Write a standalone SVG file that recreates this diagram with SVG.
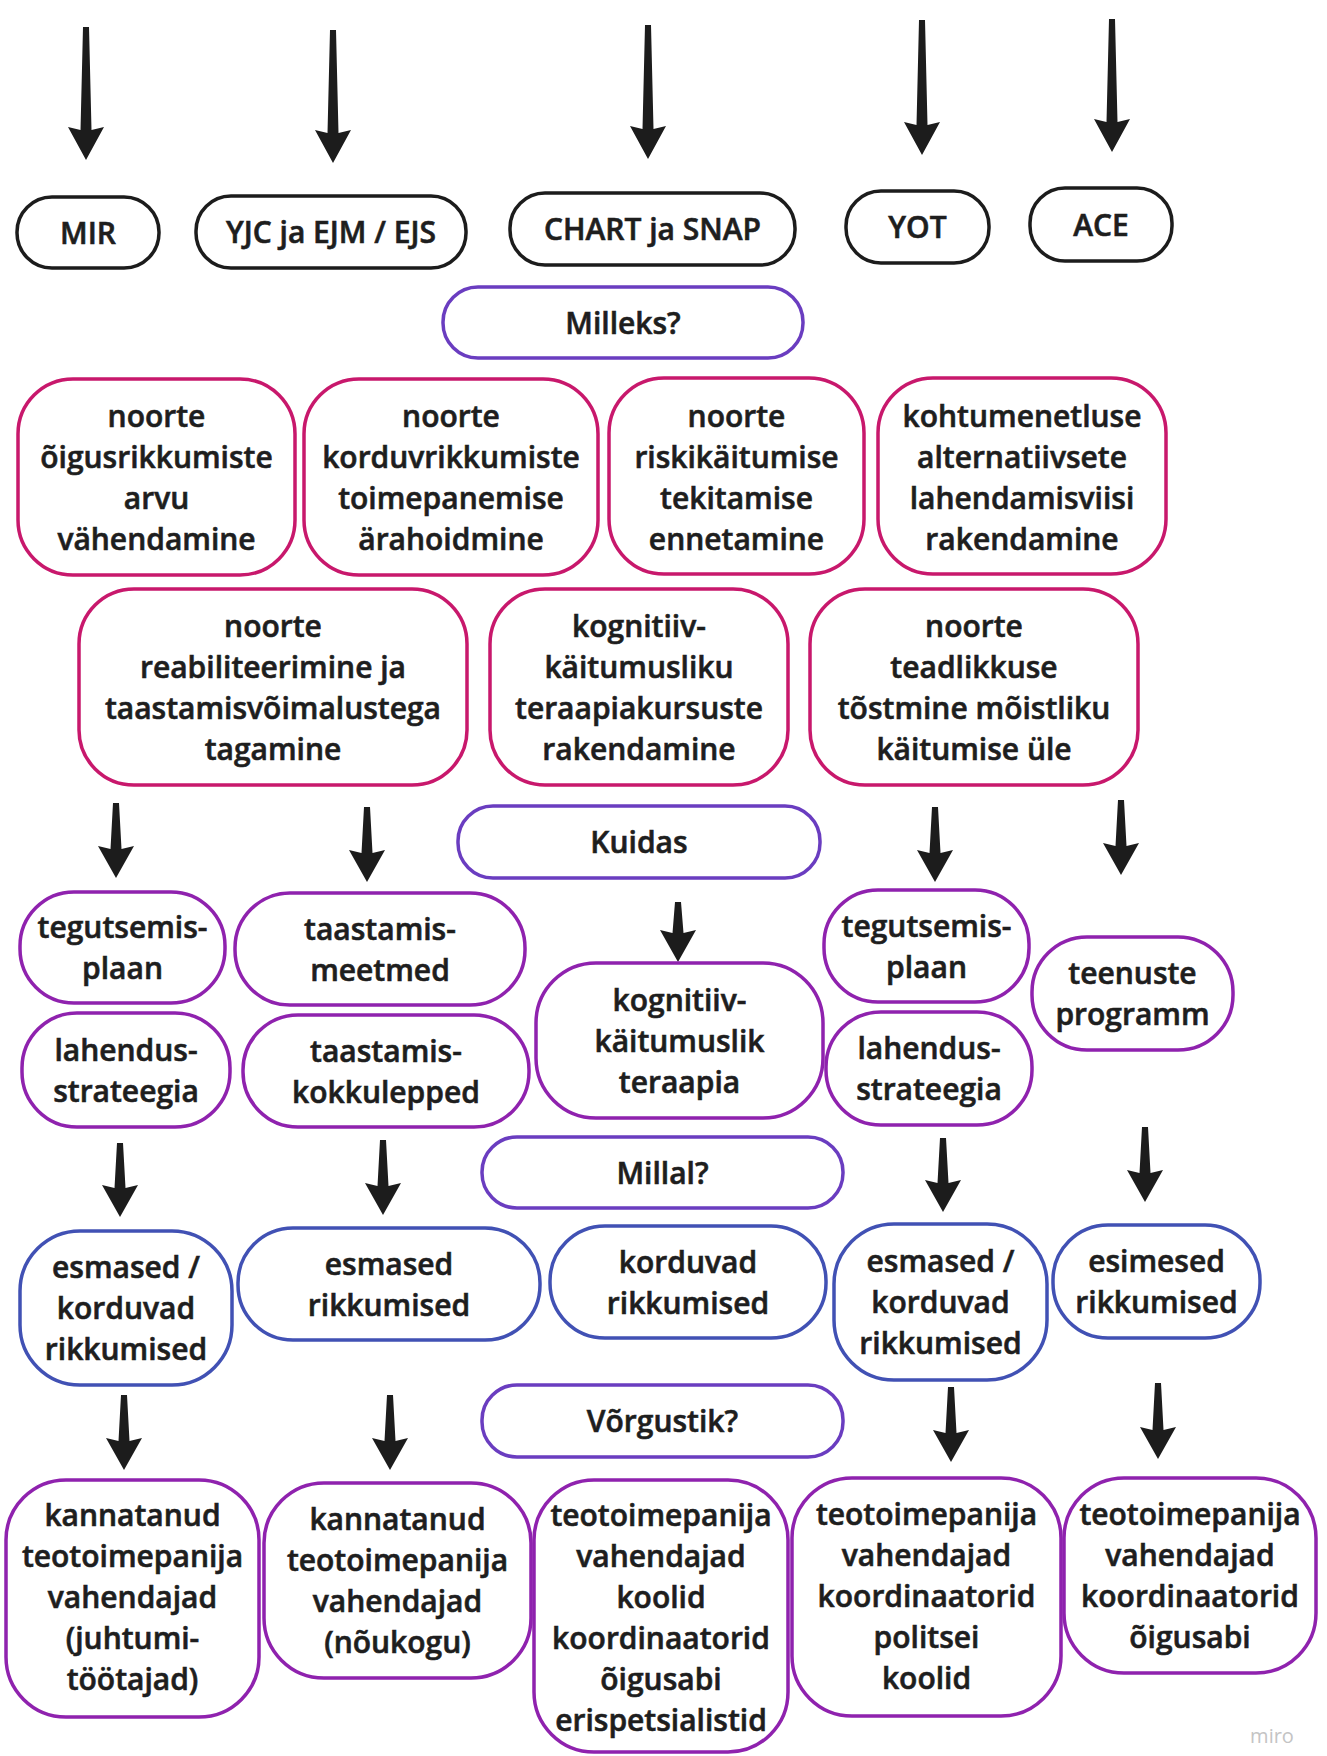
<svg xmlns="http://www.w3.org/2000/svg" width="1327" height="1756" viewBox="0 0 1327 1756">
<style>
  text { font-family: "Open Sans", "Noto Sans", "Liberation Sans", sans-serif; font-weight: 600; font-size: 30px; fill: #1e1e1e; stroke: #1e1e1e; stroke-width: 0.6px; text-anchor: middle; }
  rect { fill: #ffffff; stroke-width: 3.5; }
  .blk { stroke: #1c1c1c; }
  .pnk { stroke: #c8186c; }
  .vio { stroke: #6a3dc0; }
  .pur { stroke: #8f22ae; }
  .blu { stroke: #4151b4; }
  .arr { fill: #1c1c1c; stroke: none; }
  .wm { font-size: 20px; font-weight: 400; fill: #c4c4c4; stroke: none; }
</style>
<rect x="0" y="0" width="1327" height="1756" style="fill:#ffffff;stroke:none"/>

<g id="connectors">
  <path class="arr" d="M83,27 L89,27 L91.5,130 L104,127 L86,160 L68,127 L80.5,130 Z"/>
  <path class="arr" d="M330,30 L336,30 L338.5,133 L351,130 L333,163 L315,130 L327.5,133 Z"/>
  <path class="arr" d="M645,25 L651,25 L653.5,129 L666,126 L648,159 L630,126 L642.5,129 Z"/>
  <path class="arr" d="M919,20 L925,20 L927.5,125 L940,122 L922,155 L904,122 L916.5,125 Z"/>
  <path class="arr" d="M1109,19 L1115,19 L1117.5,122 L1130,119 L1112,152 L1094,119 L1106.5,122 Z"/>

  <path class="arr" d="M113,803 L119,803 L121.5,849 L134,846 L116,878 L98,846 L110.5,849 Z"/>
  <path class="arr" d="M364,807 L370,807 L372.5,853 L385,850 L367,882 L349,850 L361.5,853 Z"/>
  <path class="arr" d="M932,807 L938,807 L940.5,853 L953,850 L935,882 L917,850 L929.5,853 Z"/>
  <path class="arr" d="M1118,800 L1124,800 L1126.5,846 L1139,843 L1121,875 L1103,843 L1115.5,846 Z"/>
  <path class="arr" d="M675,902 L681,902 L683.5,933 L696,930 L678,962 L660,930 L672.5,933 Z"/>

  <path class="arr" d="M117,1143 L123,1143 L125.5,1188 L138,1185 L120,1217 L102,1185 L114.5,1188 Z"/>
  <path class="arr" d="M380,1140 L386,1140 L388.5,1186 L401,1183 L383,1215 L365,1183 L377.5,1186 Z"/>
  <path class="arr" d="M940,1138 L946,1138 L948.5,1183 L961,1180 L943,1212 L925,1180 L937.5,1183 Z"/>
  <path class="arr" d="M1142,1127 L1148,1127 L1150.5,1173 L1163,1170 L1145,1202 L1127,1170 L1139.5,1173 Z"/>

  <path class="arr" d="M121,1395 L127,1395 L129.5,1441 L142,1438 L124,1470 L106,1438 L118.5,1441 Z"/>
  <path class="arr" d="M387,1395 L393,1395 L395.5,1441 L408,1438 L390,1470 L372,1438 L384.5,1441 Z"/>
  <path class="arr" d="M948,1387 L954,1387 L956.5,1433 L969,1430 L951,1462 L933,1430 L945.5,1433 Z"/>
  <path class="arr" d="M1155,1383 L1161,1383 L1163.5,1430 L1176,1427 L1158,1459 L1140,1427 L1152.5,1430 Z"/>
</g>

<g id="mir"><rect class="blk" x="17" y="197" width="142" height="71" rx="35"/><text x="88" y="243.5">MIR</text></g>
<g id="yjc"><rect class="blk" x="196" y="196" width="270" height="72" rx="35"/><text x="331" y="243">YJC ja EJM / EJS</text></g>
<g id="chart"><rect class="blk" x="510" y="193" width="285" height="72" rx="35"/><text x="652.5" y="240">CHART ja SNAP</text></g>
<g id="yot"><rect class="blk" x="846" y="191" width="143" height="72" rx="35"/><text x="917.5" y="238">YOT</text></g>
<g id="ace"><rect class="blk" x="1030" y="188" width="142" height="73" rx="35"/><text x="1101" y="235.5">ACE</text></g>

<g id="milleks"><rect class="vio" x="443" y="287" width="360" height="71" rx="35"/><text x="623" y="333.5">Milleks?</text></g>

<g id="goal1"><rect class="pnk" x="18" y="379" width="277" height="196" rx="55"/>
  <text><tspan x="156.5" y="427">noorte</tspan><tspan x="156.5" y="468">õigusrikkumiste</tspan><tspan x="156.5" y="509">arvu</tspan><tspan x="156.5" y="550">vähendamine</tspan></text></g>
<g id="goal2"><rect class="pnk" x="304" y="379" width="294" height="196" rx="55"/>
  <text><tspan x="451" y="427">noorte</tspan><tspan x="451" y="468">korduvrikkumiste</tspan><tspan x="451" y="509">toimepanemise</tspan><tspan x="451" y="550">ärahoidmine</tspan></text></g>
<g id="goal3"><rect class="pnk" x="609" y="378" width="255" height="196" rx="55"/>
  <text><tspan x="736.5" y="427">noorte</tspan><tspan x="736.5" y="468">riskikäitumise</tspan><tspan x="736.5" y="509">tekitamise</tspan><tspan x="736.5" y="550">ennetamine</tspan></text></g>
<g id="goal4"><rect class="pnk" x="878" y="378" width="288" height="196" rx="55"/>
  <text><tspan x="1022" y="427">kohtumenetluse</tspan><tspan x="1022" y="468">alternatiivsete</tspan><tspan x="1022" y="509">lahendamisviisi</tspan><tspan x="1022" y="550">rakendamine</tspan></text></g>

<g id="goal5"><rect class="pnk" x="79" y="589" width="388" height="196" rx="55"/>
  <text><tspan x="273" y="636.5">noorte</tspan><tspan x="273" y="677.5">reabiliteerimine ja</tspan><tspan x="273" y="718.5">taastamisvõimalustega</tspan><tspan x="273" y="759.5">tagamine</tspan></text></g>
<g id="goal6"><rect class="pnk" x="490" y="589" width="298" height="196" rx="55"/>
  <text><tspan x="639" y="636.5">kognitiiv-</tspan><tspan x="639" y="677.5">käitumusliku</tspan><tspan x="639" y="718.5">teraapiakursuste</tspan><tspan x="639" y="759.5">rakendamine</tspan></text></g>
<g id="goal7"><rect class="pnk" x="810" y="589" width="328" height="196" rx="55"/>
  <text><tspan x="974" y="636.5">noorte</tspan><tspan x="974" y="677.5">teadlikkuse</tspan><tspan x="974" y="718.5">tõstmine mõistliku</tspan><tspan x="974" y="759.5">käitumise üle</tspan></text></g>

<g id="kuidas"><rect class="vio" x="458" y="806" width="362" height="72" rx="35"/><text x="639" y="853">Kuidas</text></g>

<g id="how1"><rect class="pur" x="20" y="892" width="205" height="111" rx="54"/>
  <text><tspan x="122.5" y="938">tegutsemis-</tspan><tspan x="122.5" y="979">plaan</tspan></text></g>
<g id="how2"><rect class="pur" x="22" y="1013" width="208" height="114" rx="55"/>
  <text><tspan x="126" y="1061">lahendus-</tspan><tspan x="126" y="1102">strateegia</tspan></text></g>
<g id="how3"><rect class="pur" x="235" y="893" width="290" height="112" rx="55"/>
  <text><tspan x="380" y="939.5">taastamis-</tspan><tspan x="380" y="980.5">meetmed</tspan></text></g>
<g id="how4"><rect class="pur" x="243" y="1015" width="286" height="112" rx="55"/>
  <text><tspan x="386" y="1061.5">taastamis-</tspan><tspan x="386" y="1102.5">kokkulepped</tspan></text></g>
<g id="how5"><rect class="pur" x="536" y="963" width="287" height="155" rx="60"/>
  <text><tspan x="679.5" y="1010.5">kognitiiv-</tspan><tspan x="679.5" y="1051.5">käitumuslik</tspan><tspan x="679.5" y="1092.5">teraapia</tspan></text></g>
<g id="how6"><rect class="pur" x="824" y="890" width="205" height="112" rx="54"/>
  <text><tspan x="926.5" y="936.5">tegutsemis-</tspan><tspan x="926.5" y="977.5">plaan</tspan></text></g>
<g id="how7"><rect class="pur" x="826" y="1012" width="206" height="113" rx="55"/>
  <text><tspan x="929" y="1059">lahendus-</tspan><tspan x="929" y="1100">strateegia</tspan></text></g>
<g id="how8"><rect class="pur" x="1032" y="937" width="201" height="113" rx="55"/>
  <text><tspan x="1132.5" y="984">teenuste</tspan><tspan x="1132.5" y="1025">programm</tspan></text></g>

<g id="millal"><rect class="vio" x="482" y="1137" width="361" height="71" rx="35"/><text x="662.5" y="1183.5">Millal?</text></g>

<g id="when1"><rect class="blu" x="20" y="1231" width="212" height="154" rx="60"/>
  <text><tspan x="126" y="1278">esmased /</tspan><tspan x="126" y="1319">korduvad</tspan><tspan x="126" y="1360">rikkumised</tspan></text></g>
<g id="when2"><rect class="blu" x="238" y="1228" width="302" height="112" rx="55"/>
  <text><tspan x="389" y="1274.5">esmased</tspan><tspan x="389" y="1315.5">rikkumised</tspan></text></g>
<g id="when3"><rect class="blu" x="550" y="1226" width="276" height="112" rx="55"/>
  <text><tspan x="688" y="1272.5">korduvad</tspan><tspan x="688" y="1313.5">rikkumised</tspan></text></g>
<g id="when4"><rect class="blu" x="834" y="1224" width="213" height="156" rx="60"/>
  <text><tspan x="940.5" y="1272">esmased /</tspan><tspan x="940.5" y="1313">korduvad</tspan><tspan x="940.5" y="1354">rikkumised</tspan></text></g>
<g id="when5"><rect class="blu" x="1053" y="1225" width="207" height="113" rx="55"/>
  <text><tspan x="1156.5" y="1272">esimesed</tspan><tspan x="1156.5" y="1313">rikkumised</tspan></text></g>

<g id="vorgustik"><rect class="vio" x="482" y="1385" width="361" height="72" rx="35"/><text x="662.5" y="1432">Võrgustik?</text></g>

<g id="net1"><rect class="pur" x="6" y="1480" width="253" height="237" rx="60"/>
  <text><tspan x="132.5" y="1526">kannatanud</tspan><tspan x="132.5" y="1567">teotoimepanija</tspan><tspan x="132.5" y="1608">vahendajad</tspan><tspan x="132.5" y="1649">(juhtumi-</tspan><tspan x="132.5" y="1690">töötajad)</tspan></text></g>
<g id="net2"><rect class="pur" x="264" y="1483" width="267" height="195" rx="60"/>
  <text><tspan x="397.5" y="1530">kannatanud</tspan><tspan x="397.5" y="1571">teotoimepanija</tspan><tspan x="397.5" y="1612">vahendajad</tspan><tspan x="397.5" y="1653">(nõukogu)</tspan></text></g>
<g id="net3"><rect class="pur" x="534" y="1480" width="254" height="272" rx="60"/>
  <text><tspan x="661" y="1526">teotoimepanija</tspan><tspan x="661" y="1567">vahendajad</tspan><tspan x="661" y="1608">koolid</tspan><tspan x="661" y="1649">koordinaatorid</tspan><tspan x="661" y="1690">õigusabi</tspan><tspan x="661" y="1731">erispetsialistid</tspan></text></g>
<g id="net4"><rect class="pur" x="792" y="1478" width="269" height="238" rx="60"/>
  <text><tspan x="926.5" y="1525">teotoimepanija</tspan><tspan x="926.5" y="1566">vahendajad</tspan><tspan x="926.5" y="1607">koordinaatorid</tspan><tspan x="926.5" y="1648">politsei</tspan><tspan x="926.5" y="1689">koolid</tspan></text></g>
<g id="net5"><rect class="pur" x="1064" y="1478" width="252" height="195" rx="60"/>
  <text><tspan x="1190" y="1525">teotoimepanija</tspan><tspan x="1190" y="1566">vahendajad</tspan><tspan x="1190" y="1607">koordinaatorid</tspan><tspan x="1190" y="1648">õigusabi</tspan></text></g>

<text class="wm" x="1272" y="1743">miro</text>
</svg>
